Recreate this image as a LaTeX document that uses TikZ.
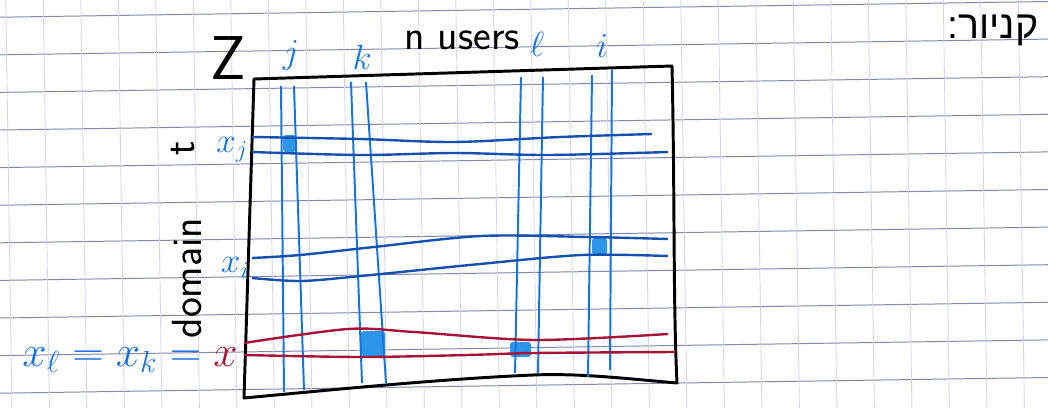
\documentclass[tikz,border=0pt]{standalone}
\usepackage{fontspec}
\usepackage{xcolor}
\usepackage{tikz}
\newfontfamily\hebfont[Script=Hebrew]{Liberation Sans}
\TeXXeTstate=1
\definecolor{tintaazul}{RGB}{25,115,220}
\definecolor{tintaoscura}{RGB}{22,80,175}
\definecolor{tintaroja}{RGB}{165,20,55}
\definecolor{lineah}{RGB}{130,135,172}
\definecolor{lineav}{RGB}{212,215,236}
\definecolor{mancha}{RGB}{45,150,235}
\tikzset{
  cuadh/.style={draw=lineah,line width=0.7pt},
  cuadv/.style={draw=lineav,line width=0.6pt},
  marco/.style={draw=black,line width=2.1pt,line join=round},
  usuario/.style={draw=tintaazul,line width=1.4pt},
  valor/.style={draw=tintaoscura,line width=1.7pt},
  rojo/.style={draw=tintaroja,line width=1.7pt},
  celda/.style={fill=mancha,rounded corners=2pt},
  etiq/.style={inner sep=0pt,font=\fontsize{25}{25}\selectfont}
}

\begin{document}
\begin{tikzpicture}[x=0.025cm,y=-0.025cm]
\useasboundingbox[fill=white] (0,0) rectangle (1048,408);
% papel cuadriculado
\foreach \k in {-3,...,7}
  \draw[cuadh] (0,{130+37.6*\k}) -- (1048,{114.3+37.6*\k});
\foreach \k in {0,...,27}
  \draw[cuadv] ({5.8+37.5*\k},0) -- ({11.9+37.5*\k},408);
% celdas marcadas
\fill[celda] (283,135) rectangle (296,152);
\fill[celda] (592,238) rectangle (607,255);
\fill[celda] (361,331) rectangle (385,356);
\fill[celda] (510,342) rectangle (531,357);
% matriz Z
\draw[marco] (254,79) -- (672,66) .. controls (675,200) and (673,300) .. (677,383)
  .. controls (630,379) and (580,373) .. (533,375)
  .. controls (440,379) and (330,390) .. (244,398) -- cycle;
\foreach \a/\b/\c/\d in {281/86/284/392,294/86/304/390,351/82/362/383,366/82/386/383,
  521/77/515/373,543/77/538/373,592/75/588/377,612/70/610/370}
  \draw[usuario] (\a,\b) -- (\c,\d);
\draw[valor] plot[smooth] coordinates {(252,137) (360,139) (455,142) (560,137) (652,134)};
\draw[valor] plot[smooth] coordinates {(252,152) (361,155) (455,153) (548,155) (668,152)};
\draw[valor] plot[smooth] coordinates {(252,258) (300,255) (374,247) (481,236) (588,237) (668,239)};
\draw[valor] plot[smooth] coordinates {(252,278) (301,281) (361,276) (480,264) (582,255) (668,256)};
\draw[rojo] plot[smooth] coordinates {(244,343) (348,329) (414,332) (535,340) (668,334)};
\draw[rojo] plot[smooth] coordinates {(244,355) (361,357) (468,355) (535,353) (675,352)};
% etiquetas
\node[etiq,font=\fontsize{44}{44}\selectfont\sffamily] (zmat) at (228,58) {Z};
\node[etiq,tintaazul] (uj) at (291,55) {$j$};
\node[etiq,tintaazul] (uk) at (362,57) {$k$};
\node[etiq,font=\fontsize{30}{30}\selectfont\sffamily] (nus) at (462,40) {n users};
\node[etiq,tintaazul] (ul) at (537,44) {$\ell$};
\node[etiq,tintaazul] (ui) at (602,46) {$i$};
\node[etiq,tintaazul] (xj) at (232,150) {$x_j$};
\node[etiq,tintaazul] (xi) at (235,268) {$x_i$};
\node[etiq,font=\fontsize{30}{30}\selectfont\sffamily,rotate=90] (dom) at (187,278) {domain};
\node[etiq,font=\fontsize{30}{30}\selectfont\sffamily,rotate=90] (tt) at (183,148) {t};
\node[etiq,tintaazul,anchor=base east] (igual) at (238,366) {\scalebox{1.25}{$x_\ell = x_k = \textcolor{tintaroja}{x}$}};
\node[etiq,font=\fontsize{28}{28}\selectfont\hebfont] (heb) at (993,30) {\beginR קניור:\endR};
\end{tikzpicture}
\end{document}
